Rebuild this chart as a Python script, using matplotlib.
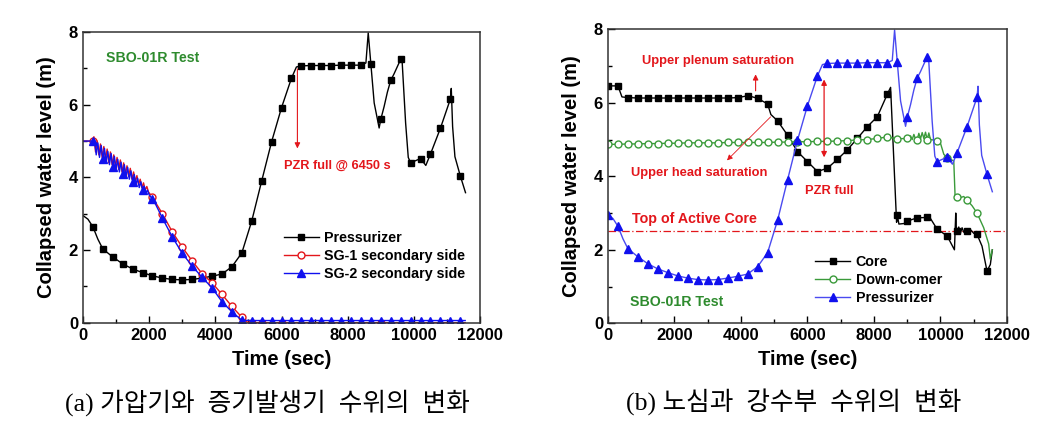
import matplotlib
matplotlib.use("Agg")
import matplotlib.pyplot as plt
from matplotlib.ticker import MultipleLocator

# ---------------- data ----------------
# Pressurizer collapsed level (same test, shown in both panels)
t_pzr = [0, 150, 300, 450, 600, 900, 1200, 1500, 1800, 2100, 2400, 2700, 3000,
         3300, 3600, 3900, 4200, 4500, 4800, 5100, 5400, 5700, 6000, 6300, 6450,
         6600, 6900, 7200, 7500, 7800, 8100, 8400, 8550, 8620, 8700, 8800, 8950,
         9000, 9100, 9200, 9300, 9400, 9500, 9600, 9640, 9750, 9830, 9900, 10200,
         10360, 10500, 10800, 11100, 11130, 11170, 11240, 11400, 11560]
y_pzr = [2.95, 2.85, 2.64, 2.30, 2.03, 1.81, 1.62, 1.48, 1.38, 1.29, 1.23, 1.19,
         1.18, 1.19, 1.23, 1.28, 1.34, 1.54, 1.92, 2.80, 3.90, 4.98, 5.92, 6.73,
         7.04, 7.07, 7.08, 7.08, 7.08, 7.09, 7.09, 7.09, 7.15, 7.98, 7.12, 6.05,
         5.36, 5.60, 5.95, 6.35, 6.67, 6.85, 7.05, 7.25, 7.27, 5.50, 4.55, 4.40,
         4.52, 4.33, 4.64, 5.35, 6.15, 6.45, 5.40, 4.57, 4.05, 3.58]

# Steam generator secondary side levels (left panel)
t_sg2 = [0, 300, 350, 400, 450, 500, 550, 600, 650, 700, 750, 800, 850, 900, 950,
         1000, 1050, 1100, 1150, 1200, 1250, 1300, 1350, 1400, 1450, 1500, 1550,
         1600, 1650, 1700, 1750, 1800, 1850, 1900, 1950, 2000, 2100, 2200, 2400,
         2700, 3000, 3300, 3600, 3900, 4200, 4500, 4800, 5100, 5400, 5700, 6000,
         6300, 6600, 6900, 7200, 7500, 7800, 8100, 8400, 8700, 9000, 9300, 9600,
         9900, 10200, 10500, 10800, 11100, 11400, 11550]
y_sg2 = [5.00, 5.00, 5.02, 4.62, 4.95, 4.55, 4.88, 4.50, 4.80, 4.42, 4.72, 4.35,
         4.66, 4.28, 4.58, 4.22, 4.50, 4.15, 4.42, 4.08, 4.35, 4.02, 4.28, 3.95,
         4.18, 3.88, 4.08, 3.80, 3.98, 3.72, 3.88, 3.65, 3.76, 3.58, 3.65, 3.52,
         3.40, 3.25, 2.88, 2.36, 1.91, 1.56, 1.25, 0.96, 0.58, 0.30, 0.07, 0.06,
         0.06, 0.06, 0.06, 0.06, 0.06, 0.06, 0.06, 0.06, 0.06, 0.06, 0.06, 0.06,
         0.06, 0.06, 0.06, 0.06, 0.06, 0.06, 0.06, 0.06, 0.06, 0.06]
t_sg1 = [0, 300, 330, 380, 430, 480, 530, 580, 630, 680, 730, 780, 830, 880, 930,
         980, 1030, 1080, 1130, 1180, 1230, 1280, 1330, 1380, 1430, 1480, 1530,
         1580, 1630, 1680, 1730, 1780, 1830, 1880, 1930, 1980, 2100, 2200, 2400,
         2700, 3000, 3300, 3600, 3900, 4200, 4500, 4800, 4950, 5100, 5400, 6000,
         7000, 8000, 9000, 10000, 11000, 11550]
y_sg1 = [5.00, 5.00, 5.12, 4.70, 5.00, 4.62, 4.92, 4.55, 4.85, 4.48, 4.78, 4.40,
         4.70, 4.35, 4.62, 4.28, 4.55, 4.22, 4.48, 4.15, 4.40, 4.08, 4.32, 4.02,
         4.25, 3.95, 4.15, 3.88, 4.05, 3.80, 3.95, 3.72, 3.85, 3.65, 3.75, 3.60,
         3.45, 3.30, 3.00, 2.50, 2.08, 1.70, 1.35, 1.10, 0.78, 0.45, 0.15, 0.02,
         0.00, 0.00, 0.00, 0.00, 0.00, 0.00, 0.00, 0.00, 0.00]

# Core collapsed level (right panel)
t_core = [0, 300, 420, 600, 900, 1200, 1500, 1800, 2100, 2400, 2700, 3000, 3300,
          3600, 3900, 4200, 4350, 4500, 4800, 4900, 5100, 5400, 5700, 6000, 6300,
          6600, 6900, 7200, 7500, 7800, 8100, 8400, 8500, 8680, 8700, 8750, 8950,
          9000, 9300, 9600, 9700, 9900, 10200, 10420, 10460, 10480, 10500, 10550,
          10600, 10650, 10700, 10800, 10900, 11000, 11100, 11250, 11400, 11500,
          11560]
y_core = [6.46, 6.46, 6.16, 6.14, 6.13, 6.13, 6.13, 6.13, 6.13, 6.13, 6.13, 6.13,
          6.13, 6.13, 6.14, 6.19, 6.16, 6.12, 5.97, 5.68, 5.51, 5.12, 4.67, 4.40,
          4.13, 4.22, 4.46, 4.72, 5.03, 5.35, 5.62, 6.23, 6.42, 2.75, 2.95, 2.70,
          2.72, 2.78, 2.87, 2.88, 2.85, 2.56, 2.38, 2.00, 3.00, 2.50, 2.52, 2.62,
          2.45, 2.60, 2.48, 2.50, 2.55, 2.45, 2.42, 2.10, 1.42, 1.60, 2.00]

# Down-comer collapsed level (right panel)
t_dc = [0, 300, 600, 900, 1200, 1500, 1800, 2100, 2400, 2700, 3000, 3300, 3600,
        3900, 4200, 4500, 4800, 5100, 5400, 5700, 6000, 6300, 6600, 6900, 7200,
        7500, 7800, 8100, 8400, 8700, 9000, 9100, 9150, 9200, 9250, 9300, 9350,
        9400, 9450, 9500, 9550, 9600, 9650, 9700, 9900, 10000, 10100, 10200,
        10400, 10440, 10500, 10600, 10700, 10800, 10950, 11100, 11300, 11450,
        11500, 11560]
y_dc = [4.87, 4.87, 4.88, 4.88, 4.89, 4.89, 4.90, 4.90, 4.91, 4.91, 4.91, 4.91,
        4.92, 4.92, 4.92, 4.92, 4.92, 4.93, 4.93, 4.94, 4.94, 4.95, 4.95, 4.96,
        4.97, 4.99, 5.00, 5.03, 5.07, 5.02, 5.03, 5.10, 5.00, 5.14, 5.01, 5.00,
        5.17, 5.02, 5.19, 5.03, 5.20, 5.00, 5.18, 5.00, 4.97, 4.90, 4.60, 4.50,
        4.42, 3.45, 3.45, 3.42, 3.45, 3.35, 3.20, 3.00, 2.60, 2.16, 1.75, 2.00]

toac = 2.5  # top of active core (m)

x_ticks = [0, 2000, 4000, 6000, 8000, 10000, 12000]
y_ticks = [0, 2, 4, 6, 8]

# ---------------- style ----------------
FONT = ['Liberation Sans', 'DejaVu Sans']
plt.rcParams['font.family'] = FONT
plt.rcParams['font.weight'] = 'bold'
RED = '#e3161b'
BLUE = '#1010ee'
GREEN = '#2e8b2e'
LGREEN = '#3a9a3a'

fig = plt.figure(figsize=(10.45, 4.28), dpi=100)
axL = fig.add_axes([0.0794, 0.246, 0.380, 0.679])
axR = fig.add_axes([0.5818, 0.2446, 0.3818, 0.687])


def marks(ts, start=0):
    return [i for i, t in enumerate(ts) if t % 300 == 0 and t >= start]


def style(ax):
    ax.set_xlim(0, 12000)
    ax.set_ylim(0, 8)
    ax.set_xticks(x_ticks)
    ax.set_yticks(y_ticks)
    ax.xaxis.set_minor_locator(MultipleLocator(1000))
    ax.yaxis.set_minor_locator(MultipleLocator(1))
    ax.tick_params(which='both', direction='in', top=False, right=False,
                   labelsize=12, width=1.0)
    ax.tick_params(which='major', length=5)
    ax.tick_params(which='minor', length=3)
    for lab in ax.get_xticklabels() + ax.get_yticklabels():
        lab.set_fontweight('bold')
    for s in ax.spines.values():
        s.set_linewidth(1.1)
        s.set_color('#333333')
    ax.set_xlabel('Time (sec)', fontsize=14.5, fontweight='bold', labelpad=5)
    ax.set_ylabel('Collapsed water level (m)', fontsize=14.5, fontweight='bold',
                  labelpad=9)


# ---------------- left panel ----------------
axL.plot(t_pzr, y_pzr, color='black', lw=1.0, marker='s', ms=5,
         markevery=marks(t_pzr, 300), label='Pressurizer')
axL.plot(t_sg1, y_sg1, color=RED, lw=1.0, marker='o', ms=5, mfc='white',
         mec=RED, markevery=marks(t_sg1, 300), label='SG-1 secondary side')
axL.plot(t_sg2, y_sg2, color=BLUE, lw=1.0, marker='^', ms=5.5,
         markevery=marks(t_sg2, 300), label='SG-2 secondary side')
style(axL)
axL.text(700, 7.3, 'SBO-01R Test', color=GREEN, fontsize=10.2,
         fontweight='bold', ha='left', va='center')
axL.annotate('', xy=(6480, 4.72), xytext=(6480, 7.06),
             arrowprops=dict(arrowstyle='-|>', color=RED, lw=0.8,
                             mutation_scale=8))
axL.text(6080, 4.31, 'PZR full @ 6450 s', color=RED, fontsize=9.2,
         fontweight='bold', ha='left', va='center')
axL.legend(loc='center left', bbox_to_anchor=(0.506, 0.229), frameon=False,
           borderpad=0, borderaxespad=0, handlelength=2.45,
           handletextpad=0.35, labelspacing=0.3,
           prop={'size': 10.3, 'weight': 'bold'})

# ---------------- right panel ----------------
axR.axhline(toac, color=RED, lw=0.9, ls=(0, (6, 2, 1, 2)))
axR.plot(t_core, y_core, color='black', lw=1.0, marker='s', ms=5,
         markevery=marks(t_core), label='Core')
axR.plot(t_dc, y_dc, color=LGREEN, lw=1.0, marker='o', ms=5, mfc='white',
         mec=LGREEN, markevery=marks(t_dc), label='Down-comer')
axR.plot(t_pzr, y_pzr, color='#4a4af0', lw=1.0, marker='^', ms=5.5, mfc=BLUE,
         mec=BLUE, markevery=marks(t_pzr), label='Pressurizer')
style(axR)
axR.text(1030, 7.14, 'Upper plenum saturation', color=RED, fontsize=9.3,
         fontweight='bold', ha='left', va='center')
axR.annotate('', xy=(4440, 6.85), xytext=(4440, 6.25),
             arrowprops=dict(arrowstyle='-|>', color=RED, lw=0.8,
                             mutation_scale=8))
axR.text(700, 4.08, 'Upper head saturation', color=RED, fontsize=9.3,
         fontweight='bold', ha='left', va='center')
axR.annotate('', xy=(3520, 4.38), xytext=(4950, 5.67),
             arrowprops=dict(arrowstyle='-|>', color=RED, lw=0.6,
                             mutation_scale=8))
axR.annotate('', xy=(6500, 4.44), xytext=(6500, 6.71),
             arrowprops=dict(arrowstyle='<|-|>', color=RED, lw=0.9,
                             mutation_scale=8))
axR.text(5920, 3.6, 'PZR full', color=RED, fontsize=9.3,
         fontweight='bold', ha='left', va='center')
axR.text(720, 2.84, 'Top of Active Core', color=RED, fontsize=10.3,
         fontweight='bold', ha='left', va='center')
axR.text(670, 0.59, 'SBO-01R Test', color=GREEN, fontsize=10.2,
         fontweight='bold', ha='left', va='center')
axR.legend(loc='center left', bbox_to_anchor=(0.52, 0.147), frameon=False,
           borderpad=0, borderaxespad=0, handlelength=2.45,
           handletextpad=0.35, labelspacing=0.3,
           prop={'size': 10.3, 'weight': 'bold'})

# ---------------- captions ----------------
CAP = ['Liberation Serif', 'Noto Sans CJK KR']
fig.text(267 / 1045, 1 - 403 / 428, '(a) 가압기와  증기발생기  수위의  변화',
         family=CAP, fontsize=18.5, fontweight='normal', ha='center', va='center')
fig.text(794 / 1045, 1 - 403 / 428, '(b) 노심과  강수부  수위의  변화',
         family=CAP, fontsize=18.5, fontweight='normal', ha='center', va='center')

fig.savefig('out.png', dpi=100)
